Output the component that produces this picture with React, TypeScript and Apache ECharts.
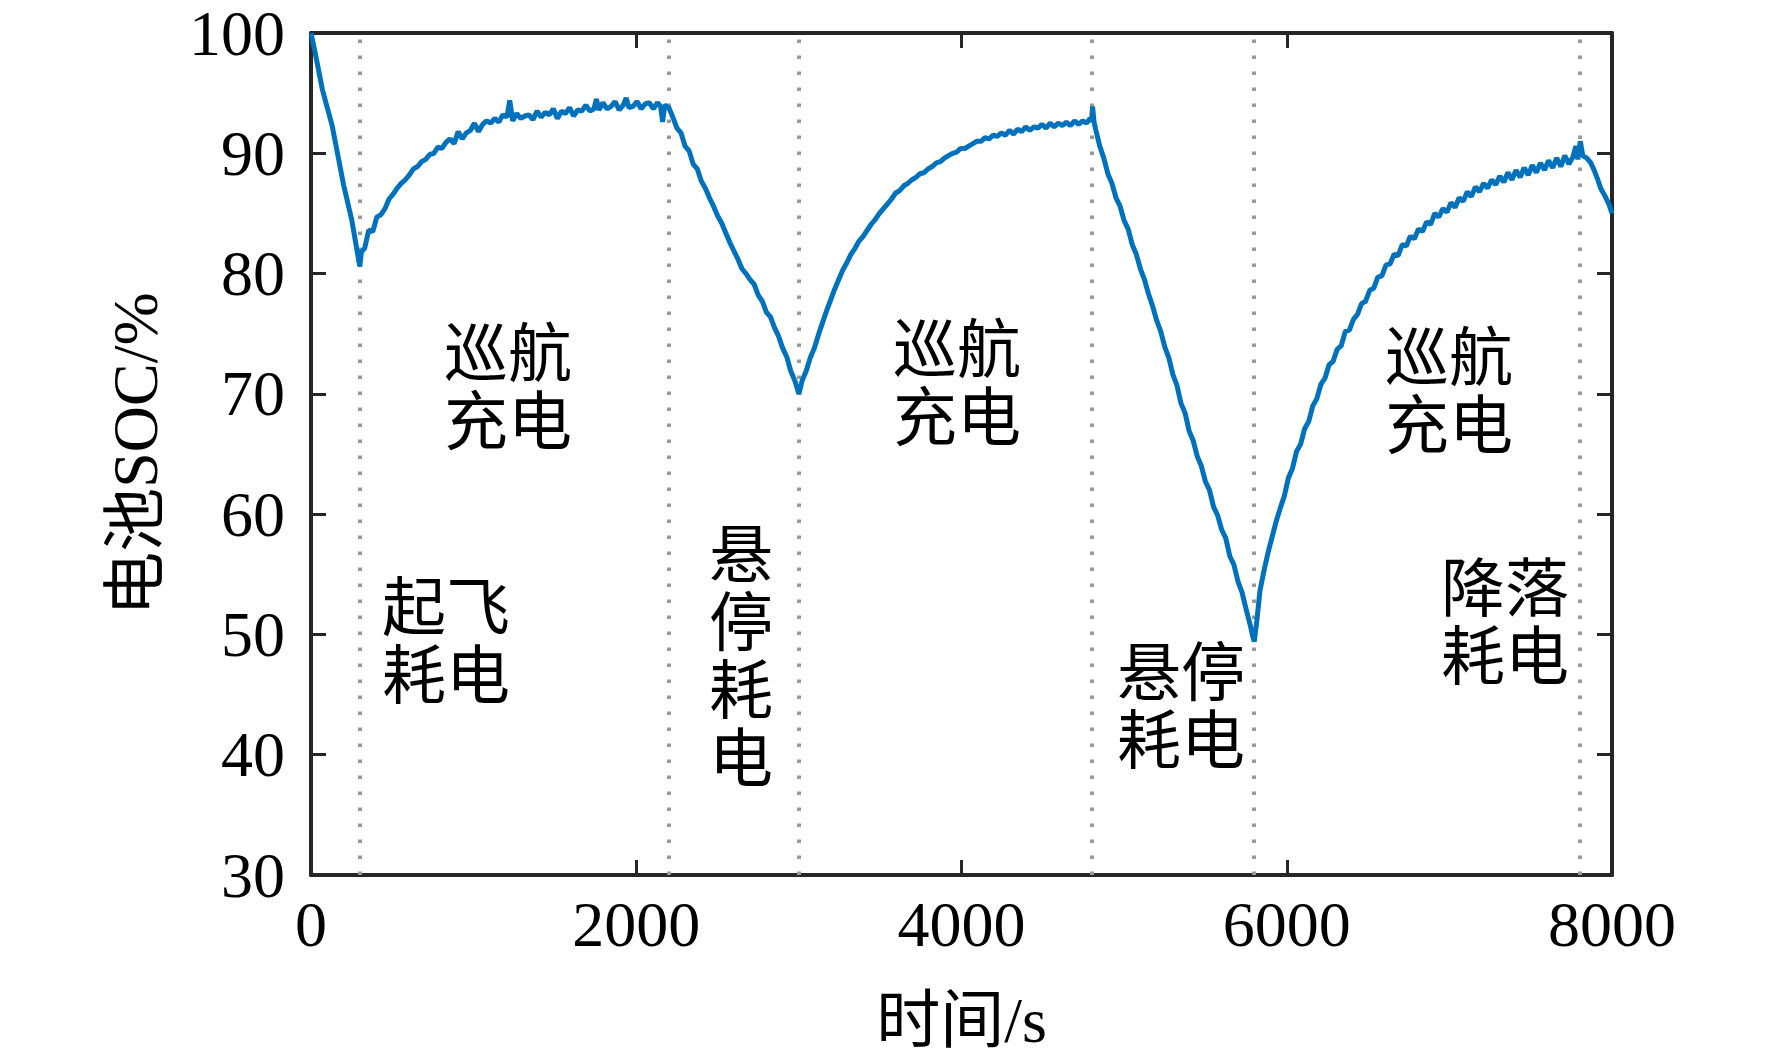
import React, { useEffect, useRef } from "react";
import * as echarts from "echarts";

// Time (s) and battery SOC (%)
const timeS: number[] = [
  0, 25, 70, 130, 200, 250, 300,
  310, 330, 355, 380, 405, 430, 455, 480, 505, 530, 555, 580, 605, 630, 655, 680, 705, 730, 755, 780,
  805, 830, 855, 880, 905, 930, 955, 980, 1005, 1030, 1055, 1080, 1105, 1130, 1155, 1180, 1205, 1222,
  1240, 1265, 1290, 1315, 1340, 1365, 1390, 1415, 1440, 1465, 1490, 1515, 1540, 1565, 1590, 1615, 1640,
  1665, 1690, 1715, 1740, 1755, 1770, 1795, 1820, 1845, 1870, 1895, 1920, 1938, 1955, 1980, 2005, 2030,
  2055, 2080, 2105, 2130, 2150, 2162, 2175, 2200,
  2225, 2250, 2275, 2300, 2325, 2350, 2375, 2400, 2425, 2450, 2475, 2500, 2525, 2550, 2575, 2600, 2625,
  2650, 2675, 2700, 2725, 2750, 2775, 2800, 2825, 2850, 2875, 2900, 2925, 2950, 2975, 3000,
  3020, 3045, 3070, 3095, 3120, 3145, 3170, 3195, 3220, 3245, 3270, 3295, 3320, 3345, 3370, 3395, 3420,
  3445, 3470, 3495, 3520, 3545, 3570, 3595, 3620, 3645, 3670, 3695, 3720, 3745, 3770, 3795, 3820, 3845,
  3870, 3895, 3920, 3945, 3970, 3995, 4020, 4045, 4070, 4095, 4120, 4145, 4170, 4195, 4220, 4245, 4270,
  4295, 4320, 4345, 4370, 4395, 4420, 4445, 4470, 4495, 4520, 4545, 4570, 4595, 4620, 4645, 4670, 4695,
  4720, 4745, 4770, 4790, 4800, 4806, 4815,
  4825, 4850, 4875, 4900, 4925, 4950, 4975, 5000, 5025, 5050, 5075, 5100, 5125, 5150, 5175, 5200, 5225,
  5250, 5275, 5300, 5325, 5350, 5375, 5400, 5425, 5450, 5475, 5500, 5525, 5550, 5575, 5600, 5625, 5650,
  5675, 5700, 5725, 5750, 5775, 5790, 5800,
  5815, 5835, 5860, 5885, 5910, 5935, 5960, 5985, 6010, 6035, 6060, 6085, 6110, 6135, 6160, 6185, 6210,
  6235, 6260, 6285, 6310, 6335, 6360, 6385, 6410, 6435, 6460, 6485, 6510, 6535, 6560, 6585, 6610, 6635,
  6660, 6685, 6710, 6735, 6760, 6785, 6810, 6835, 6860, 6885, 6910, 6935, 6960, 6985, 7010, 7035, 7060,
  7085, 7110, 7135, 7160, 7185, 7210, 7235, 7260, 7285, 7310, 7335, 7360, 7385, 7410, 7435, 7460, 7485,
  7510, 7535, 7560, 7585, 7610, 7635, 7660, 7685, 7710, 7735, 7760, 7778, 7790, 7805, 7820, 7845, 7870,
  7890, 7910, 7930, 7955, 7980, 8000,
];

const socPct: number[] = [
  100, 98.4, 95.3, 92.3, 87.4, 84.5, 80.6,
  81.8, 82.1, 83.6, 83.5, 84.7, 84.9, 85.4, 86.2, 86.6, 87.1, 87.5, 87.8, 88.2, 88.7, 88.9, 89.3, 89.5, 89.9, 90.0, 90.5,
  90.4, 90.9, 91.2, 90.8, 91.8, 91.2, 91.7, 91.9, 92.5, 91.8, 92.4, 92.7, 92.5, 92.9, 92.6, 93.2, 93.0, 94.4,
  92.7, 93.3, 92.9, 93.1, 93.2, 92.8, 93.5, 93.0, 93.4, 93.2, 93.7, 92.9, 93.5, 93.3, 93.8, 93.1, 93.6,
  93.5, 94.0, 93.5, 93.7, 94.5, 93.6, 94.2, 93.7, 93.9, 94.3, 93.6, 94.0, 94.6, 93.8, 93.9, 94.3, 93.7,
  94.1, 94.2, 93.7, 94.2, 93.9, 92.6, 94.0, 93.8,
  93.0, 92.1, 91.7, 90.6, 90.2, 89.1, 88.7, 87.7, 87.1, 86.3, 85.6, 84.8, 84.2, 83.4, 82.6, 81.9, 81.2,
  80.4, 80.0, 79.5, 79.1, 78.2, 77.7, 76.8, 76.4, 75.5, 74.8, 73.8, 73.1, 71.9, 71.1, 70.0,
  71.1, 71.9, 73.0, 73.8, 74.9, 75.9, 76.9, 77.8, 78.7, 79.5, 80.3, 80.9, 81.6, 82.1, 82.7, 83.1, 83.6,
  84.1, 84.5, 85.0, 85.4, 85.8, 86.2, 86.7, 86.9, 87.3, 87.5, 87.8, 88.0, 88.3, 88.4, 88.7, 88.9, 89.2,
  89.3, 89.6, 89.8, 90.0, 90.1, 90.4, 90.4, 90.6, 90.8, 91.0, 91.0, 91.3, 91.2, 91.5, 91.4, 91.7, 91.5,
  91.9, 91.6, 92.0, 91.8, 92.2, 91.9, 92.2, 92.1, 92.4, 92.1, 92.5, 92.2, 92.5, 92.3, 92.6, 92.3, 92.7,
  92.4, 92.7, 92.5, 92.9, 92.7, 93.9, 92.6,
  92.0, 90.6, 89.6, 88.3, 87.5, 86.3, 85.6, 84.4, 83.7, 82.4, 81.6, 80.4, 79.5, 78.3, 77.3, 76.1, 75.2,
  73.9, 73.0, 71.6, 70.7, 69.2, 68.4, 66.9, 66.1, 64.8, 64.0, 62.7, 62.0, 60.6, 59.9, 58.7, 58.0, 56.5,
  55.8, 54.4, 53.5, 52.1, 50.8, 49.9, 49.4,
  51.0, 53.6, 55.3, 56.8, 58.1, 59.4, 60.5, 61.5, 63.0, 63.8, 65.2, 65.8, 67.1, 67.7, 69.0, 69.6, 70.8,
  71.3, 72.4, 72.7, 73.7, 74.0, 75.2, 75.3, 76.2, 76.6, 77.5, 77.7, 78.6, 78.8, 79.7, 79.8, 80.7, 80.8,
  81.6, 81.5, 82.4, 82.3, 83.1, 82.9, 83.7, 83.5, 84.3, 84.1, 85.0, 84.7, 85.4, 85.1, 85.9, 85.5, 86.3,
  86.0, 86.8, 86.4, 87.2, 86.8, 87.5, 87.1, 87.8, 87.4, 88.1, 87.6, 88.4, 87.8, 88.6, 88.0, 88.8, 88.2,
  89.0, 88.4, 89.2, 88.6, 89.4, 88.8, 89.6, 88.9, 89.8, 89.1, 89.7, 90.6, 89.5, 91.0, 89.8, 89.6, 89.2,
  88.6, 87.9, 87.1, 86.5, 85.8, 85.0,
];

// Phase boundaries (s) marked with dotted vertical lines
const phaseBoundaries: number[] = [300, 2200, 3000, 4800, 5800, 7800];

// Axis ranges
const xMin = 0, xMax = 8000, xStep = 2000;
const yMin = 30, yMax = 100, yStep = 10;

// Phase annotations
const phaseLabels: string[] = [
  "巡航\n充电",
  "起飞\n耗电",
  "悬\n停\n耗\n电",
  "巡航\n充电",
  "悬停\n耗电",
  "巡航\n充电",
  "降落\n耗电",
];
const labelPos: [number, number][] = [
  [508, 382],
  [446, 636],
  [741, 651],
  [957, 378],
  [1181, 701],
  [1449, 386],
  [1505, 617],
];

const SERIF = '"Liberation Serif", "Noto Sans CJK SC", serif';
const CJK = '"Noto Sans CJK SC", sans-serif';
const AXIS_COLOR = "#262626";

export default function App() {
  const ref = useRef<HTMLDivElement>(null);

  useEffect(() => {
    if (!ref.current) return;
    const chart = echarts.init(ref.current, undefined, { renderer: "svg" });

    const seriesData = timeS.map((t, i) => [t, socPct[i]]);

    const axisLineCommon = {
      show: true,
      onZero: false,
      lineStyle: { color: AXIS_COLOR, width: 4 },
    };
    const tickCommon = {
      show: true,
      inside: true,
      length: 15,
      lineStyle: { color: AXIS_COLOR, width: 3 },
    };
    const plain = (v: number) => String(v);

    chart.setOption({
      animation: false,
      backgroundColor: "#ffffff",
      grid: { left: 311, right: 160, top: 33, bottom: 185, containLabel: false },
      xAxis: [
        {
          type: "value",
          min: xMin,
          max: xMax,
          interval: xStep,
          position: "bottom",
          axisLine: axisLineCommon,
          axisTick: tickCommon,
          splitLine: { show: false },
          axisLabel: {
            margin: 21,
            fontSize: 64,
            lineHeight: 56,
            fontFamily: SERIF,
            color: "#000",
            formatter: plain,
            showMinLabel: true,
            showMaxLabel: true,
          },
          name: "时间/s",
          nameLocation: "middle",
          nameGap: 113,
          nameTextStyle: { fontSize: 64, lineHeight: 64, fontFamily: SERIF, color: "#000" },
        },
        {
          type: "value",
          min: xMin,
          max: xMax,
          interval: xStep,
          position: "top",
          axisLine: axisLineCommon,
          axisTick: tickCommon,
          splitLine: { show: false },
          axisLabel: { show: false },
        },
      ],
      yAxis: [
        {
          type: "value",
          min: yMin,
          max: yMax,
          interval: yStep,
          position: "left",
          axisLine: axisLineCommon,
          axisTick: tickCommon,
          splitLine: { show: false },
          axisLabel: {
            margin: 26,
            fontSize: 64,
            lineHeight: 50,
            fontFamily: SERIF,
            color: "#000",
            formatter: plain,
            showMinLabel: true,
            showMaxLabel: true,
          },
          name: "电池SOC/%",
          nameLocation: "middle",
          nameRotate: 90,
          nameGap: 144,
          nameTextStyle: { fontSize: 64, lineHeight: 64, fontFamily: SERIF, color: "#000" },
        },
        {
          type: "value",
          min: yMin,
          max: yMax,
          interval: yStep,
          position: "right",
          axisLine: axisLineCommon,
          axisTick: tickCommon,
          splitLine: { show: false },
          axisLabel: { show: false },
        },
      ],
      series: [
        {
          type: "line",
          xAxisIndex: 0,
          yAxisIndex: 0,
          data: seriesData,
          showSymbol: false,
          symbol: "none",
          lineStyle: { color: "#0072BD", width: 5 },
          z: 3,
          markLine: {
            silent: true,
            symbol: "none",
            label: { show: false },
            lineStyle: { color: "#9A9A9A", width: 4, type: [3.5, 12.5] },
            data: phaseBoundaries.map((x) => ({ xAxis: x })),
            z: 2,
          },
        },
      ],
      graphic: phaseLabels.map((txt, i) => ({
        type: "text",
        x: labelPos[i][0],
        y: labelPos[i][1],
        z: 10,
        style: {
          text: txt,
          fontSize: 64,
          lineHeight: 68,
          fontFamily: CJK,
          fill: "#000",
          align: "center",
          verticalAlign: "middle",
        },
      })),
    });

    return () => chart.dispose();
  }, []);

  return (
    <div
      ref={ref}
      style={{ position: "fixed", left: 0, top: 0, width: 1772, height: 1060, background: "#fff" }}
    />
  );
}
